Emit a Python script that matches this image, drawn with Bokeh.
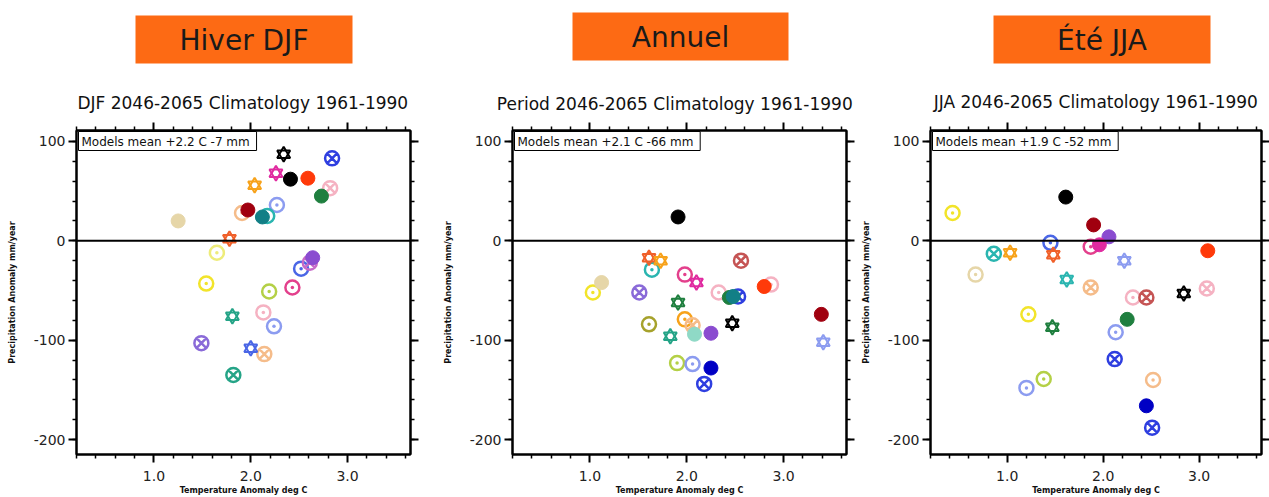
from bokeh.plotting import figure
from bokeh.models import (Label, Span, FixedTicker, Range1d, LinearAxis, BoxAnnotation,
                          CustomJSTickFormatter, ColumnDataSource)
from bokeh.layouts import row, column
from bokeh.embed import file_html
from bokeh.resources import INLINE

# ---------------- colours of the models ----------------
BLACK = "#000000"; BLUE = "#2f3fe0"; MAGENTA = "#e02aa0"; RED = "#ff3a0a"
LPINK = "#f5b2c2"; DGREEN = "#1f7f3f"; ORANGE = "#f7a21a"; LBLUE = "#8c9cf0"
DRED = "#a0000f"; PEACH = "#f5bc8a"; TEAL = "#127f86"; CYAN = "#2ab5b0"
WHEAT = "#e6d6a8"; ORED = "#f0602a"; LYELLOW = "#eeec7a"; YELLOW = "#f2e42a"
PLUM = "#c66ac8"; PURPLE = "#8a4cd0"; MBLUE = "#4a66e6"; PINK = "#e3408c"
YGREEN = "#b4d046"; TGREEN = "#25a487"; LAV = "#8a6ad8"; IRED = "#c55454"
OLIVE = "#a6a22c"; SEAG = "#8fd9c6"; DBLUE = "#0000c4"

# ---------------- data: Hiver DJF ----------------
djf_temp = [2.34, 2.84, 2.26, 2.41, 2.59, 2.82, 2.73, 2.04, 2.27, 1.91,
            1.97, 2.17, 2.12, 1.25, 1.78, 1.65, 1.54, 2.61, 2.64, 2.52,
            2.43, 2.19, 2.13, 1.81, 2.24, 1.49, 2.00, 2.14, 1.82]
djf_precip = [87, 83, 68, 62, 63, 53, 45, 56, 36, 28,
              31, 25, 24, 20, 2, -12, -43, -22, -17, -28,
              -47, -51, -72, -76, -86, -103, -108, -114, -135]
djf_marker = ["s", "x", "s", "f", "f", "x", "f", "s", "d", "d",
              "f", "d", "f", "f", "s", "d", "d", "x", "f", "d",
              "d", "d", "d", "s", "d", "x", "s", "x", "x"]
djf_color = [BLACK, BLUE, MAGENTA, BLACK, RED, LPINK, DGREEN, ORANGE, LBLUE, PEACH,
             DRED, CYAN, TEAL, WHEAT, ORED, LYELLOW, YELLOW, PLUM, PURPLE, MBLUE,
             PINK, YGREEN, LPINK, TGREEN, LBLUE, LAV, MBLUE, PEACH, TGREEN]

# ---------------- data: Annuel ----------------
ann_temp = [1.91, 1.61, 1.73, 1.64, 2.56, 1.98, 2.10, 1.12, 1.03, 1.51,
            2.87, 2.80, 2.33, 2.44, 2.48, 2.53, 1.91, 3.39, 1.61, 1.98,
            2.06, 2.08, 1.83, 2.25, 2.47, 3.41, 1.90, 2.06, 2.25, 2.18]
ann_precip = [24, -17, -20, -29, -20, -34, -42, -42, -52, -52,
              -44, -46, -52, -57, -56, -56, -62, -74, -84, -79,
              -85, -94, -96, -93, -83, -102, -123, -124, -128, -144]
ann_marker = ["f", "s", "s", "d", "x", "d", "s", "f", "d", "x",
              "d", "f", "d", "f", "f", "x", "s", "f", "d", "d",
              "x", "f", "s", "f", "s", "s", "d", "d", "f", "x"]
ann_color = [BLACK, ORED, ORANGE, CYAN, IRED, PINK, MAGENTA, WHEAT, YELLOW, LAV,
             LPINK, RED, LPINK, DGREEN, TEAL, BLUE, DGREEN, DRED, OLIVE, ORANGE,
             PEACH, SEAG, TGREEN, PURPLE, BLACK, LBLUE, YGREEN, LBLUE, DBLUE, BLUE]

# ---------------- data: Été JJA ----------------
jja_temp = [1.61, 0.43, 1.90, 2.06, 1.45, 1.87, 1.96, 0.86, 1.03, 1.48,
            3.09, 2.22, 0.67, 1.62, 1.87, 2.31, 2.45, 2.84, 3.08, 1.22,
            2.25, 1.47, 2.13, 2.12, 1.38, 1.20, 2.52, 2.45, 2.51]
jja_precip = [44, 28, 16, 4, -2, -6, -4, -13, -12, -14,
              -10, -20, -34, -39, -47, -57, -57, -53, -48, -74,
              -79, -87, -92, -119, -139, -148, -140, -166, -188]
jja_marker = ["f", "d", "f", "f", "d", "d", "f", "x", "s", "s",
              "f", "s", "d", "s", "x", "d", "x", "s", "x", "d",
              "f", "s", "d", "x", "d", "d", "d", "f", "x"]
jja_color = [BLACK, YELLOW, DRED, PURPLE, MBLUE, PINK, MAGENTA, CYAN, ORANGE, ORED,
             RED, LBLUE, WHEAT, CYAN, PEACH, LPINK, IRED, BLACK, LPINK, YELLOW,
             DGREEN, DGREEN, LBLUE, BLUE, YGREEN, LBLUE, PEACH, DBLUE, BLUE]

panel_titles = ["Hiver DJF", "Annuel", "Été JJA"]
panel_subtitles = ["DJF 2046-2065  Climatology 1961-1990",
                   "Period 2046-2065  Climatology 1961-1990",
                   "JJA 2046-2065  Climatology 1961-1990"]
panel_means = ["Models mean +2.2 C  -7 mm",
               "Models mean +2.1 C  -66 mm",
               "Models mean +1.9 C  -52 mm"]

x_major = [1.0, 2.0, 3.0]
x_minor = [0.2, 0.4, 0.6, 0.8, 1.2, 1.4, 1.6, 1.8, 2.2, 2.4, 2.6, 2.8, 3.2, 3.4, 3.6]
y_major = [-200, -100, 0, 100]
y_minor = [-200, -180, -160, -140, -120, -100, -80, -60, -40, -20, 0, 20, 40, 60, 80, 100]

X_START, X_END = 0.2, 3.65
Y_START, Y_END = -215, 111

# ---------------- layout constants (pixels) ----------------
PAGE_W = 1269
HEAD_H = 116
FIG_H = 497 - HEAD_H
TOP = 130 - HEAD_H
FRAME_H = 324
BOTTOM = FIG_H - TOP - FRAME_H
FRAME_W = 334
PANEL_W = [430, 428, 411]
PANEL_LEFT = [76, 82, 69]
BOX_X = [(135, 352), (572, 788), (993, 1210)]
BOX_Y = [(15, 63), (12, 60), (15, 63)]
SUB_X = [245, 677, 1098]
SUB_Y = [102, 103, 101]
ORANGE_BOX = "#fd6a14"
AX_FONT = "DejaVu Sans"


def style_axis(ax, show_labels):
    ax.axis_line_width = 2
    ax.axis_line_color = "black"
    ax.major_tick_line_width = 2
    ax.major_tick_line_color = "black"
    ax.major_tick_out = 8
    ax.major_tick_in = 0
    ax.minor_tick_line_width = 1.5
    ax.minor_tick_line_color = "black"
    ax.minor_tick_out = 4
    ax.minor_tick_in = 0
    ax.major_label_text_font = AX_FONT
    ax.major_label_text_color = "#222222"
    ax.axis_label_text_font = AX_FONT
    ax.axis_label_text_font_style = "bold"
    ax.axis_label_text_font_size = "8px"
    ax.axis_label_text_color = "#111111"
    if show_labels:
        ax.major_label_text_font_size = "14px"
    else:
        ax.formatter = CustomJSTickFormatter(code="return ''")
        ax.major_label_text_font_size = "0px"
        ax.major_label_standoff = 0


def make_panel(idx, temp, precip, marker, color):
    width = PANEL_W[idx]
    left = PANEL_LEFT[idx]
    p = figure(width=width, height=FIG_H,
               x_range=Range1d(X_START, X_END), y_range=Range1d(Y_START, Y_END),
               output_backend="svg", toolbar_location=None,
               x_axis_location=None, y_axis_location=None,
               min_border_left=left, min_border_right=width - left - FRAME_W,
               min_border_top=TOP, min_border_bottom=BOTTOM)
    p.xgrid.visible = False
    p.ygrid.visible = False
    p.outline_line_color = "black"
    p.outline_line_width = 2
    p.background_fill_color = "white"
    p.border_fill_color = "white"

    xt = FixedTicker(ticks=x_major, minor_ticks=x_minor)
    yt = FixedTicker(ticks=y_major, minor_ticks=y_minor)

    bx = LinearAxis(ticker=xt, formatter=CustomJSTickFormatter(code="return tick.toFixed(1)"),
                    axis_label="Temperature Anomaly deg C")
    style_axis(bx, True)
    bx.major_label_standoff = 8
    bx.axis_label_standoff = 2
    p.add_layout(bx, "below")

    tx = LinearAxis(ticker=xt)
    style_axis(tx, False)
    p.add_layout(tx, "above")

    ly = LinearAxis(ticker=yt, formatter=CustomJSTickFormatter(code="return tick.toFixed(0)"),
                    axis_label="Precipitation Anomaly mm/year")
    style_axis(ly, True)
    ly.major_label_standoff = 3
    ly.axis_label_standoff = 14
    p.add_layout(ly, "left")

    ry = LinearAxis(ticker=yt)
    style_axis(ry, False)
    p.add_layout(ry, "right")

    p.add_layout(Span(location=0, dimension="width", line_color="black", line_width=2))

    groups = {"f": ([], [], []), "d": ([], [], []), "x": ([], [], []), "s": ([], [], [])}
    for t, v, m, c in zip(temp, precip, marker, color):
        g = groups[m]
        g[0].append(t); g[1].append(v); g[2].append(c)

    def src(k):
        g = groups[k]
        return ColumnDataSource(dict(x=g[0], y=g[1], c=g[2]))

    sd = src("d")
    p.scatter("x", "y", source=sd, marker="circle_dot", size=14, fill_color=None,
              line_color="c", line_width=2.5)
    sx = src("x")
    p.scatter("x", "y", source=sx, marker="circle_x", size=14, fill_color=None,
              line_color="c", line_width=2.5)
    ss = src("s")
    p.scatter("x", "y", source=ss, marker="triangle", size=13, fill_color=None,
              line_color="c", line_width=2)
    p.scatter("x", "y", source=ss, marker="inverted_triangle", size=13, fill_color=None,
              line_color="c", line_width=2)
    sf = src("f")
    p.scatter("x", "y", source=sf, marker="circle", size=14, fill_color="c",
              line_color="c", line_width=1)

    # models mean box
    p.add_layout(Label(x=2, y=FRAME_H - 1, x_units="screen", y_units="screen",
                       text=panel_means[idx], text_align="left", text_baseline="top",
                       text_font=AX_FONT, text_font_size="12px", text_color="#111111",
                       background_fill_color="white", border_line_color="black",
                       border_line_width=1,
                       padding=dict(left=3, right=3, top=3, bottom=2)))
    return p


# ---------------- heading strip (orange boxes and subtitles) ----------------
head = figure(width=PAGE_W, height=HEAD_H, x_range=Range1d(0, PAGE_W),
              y_range=Range1d(HEAD_H, 0), output_backend="svg", toolbar_location=None,
              x_axis_location=None, y_axis_location=None,
              min_border_left=0, min_border_right=0, min_border_top=0, min_border_bottom=0)
head.xgrid.visible = False
head.ygrid.visible = False
head.outline_line_color = None
head.background_fill_color = "white"
head.border_fill_color = "white"
for i in range(3):
    (bl, br), (bt, bb) = BOX_X[i], BOX_Y[i]
    head.add_layout(BoxAnnotation(left=bl, right=br, top=bt, bottom=bb,
                                  fill_color=ORANGE_BOX, fill_alpha=1.0, line_color=None))
    head.add_layout(Label(x=(bl + br) / 2, y=(bt + bb) / 2 + 1, text=panel_titles[i],
                          text_align="center", text_baseline="middle",
                          text_font=AX_FONT, text_font_size="28px", text_color="#1a1a1a"))
    head.add_layout(Label(x=SUB_X[i], y=SUB_Y[i], text=panel_subtitles[i],
                          text_align="center", text_baseline="middle",
                          text_font=AX_FONT, text_font_size="17px", text_color="#111111"))

p1 = make_panel(0, djf_temp, djf_precip, djf_marker, djf_color)
p2 = make_panel(1, ann_temp, ann_precip, ann_marker, ann_color)
p3 = make_panel(2, jja_temp, jja_precip, jja_marker, jja_color)

layout = column(head, row(p1, p2, p3, spacing=0), spacing=0)
open("out.html", "w").write(file_html(layout, INLINE))
